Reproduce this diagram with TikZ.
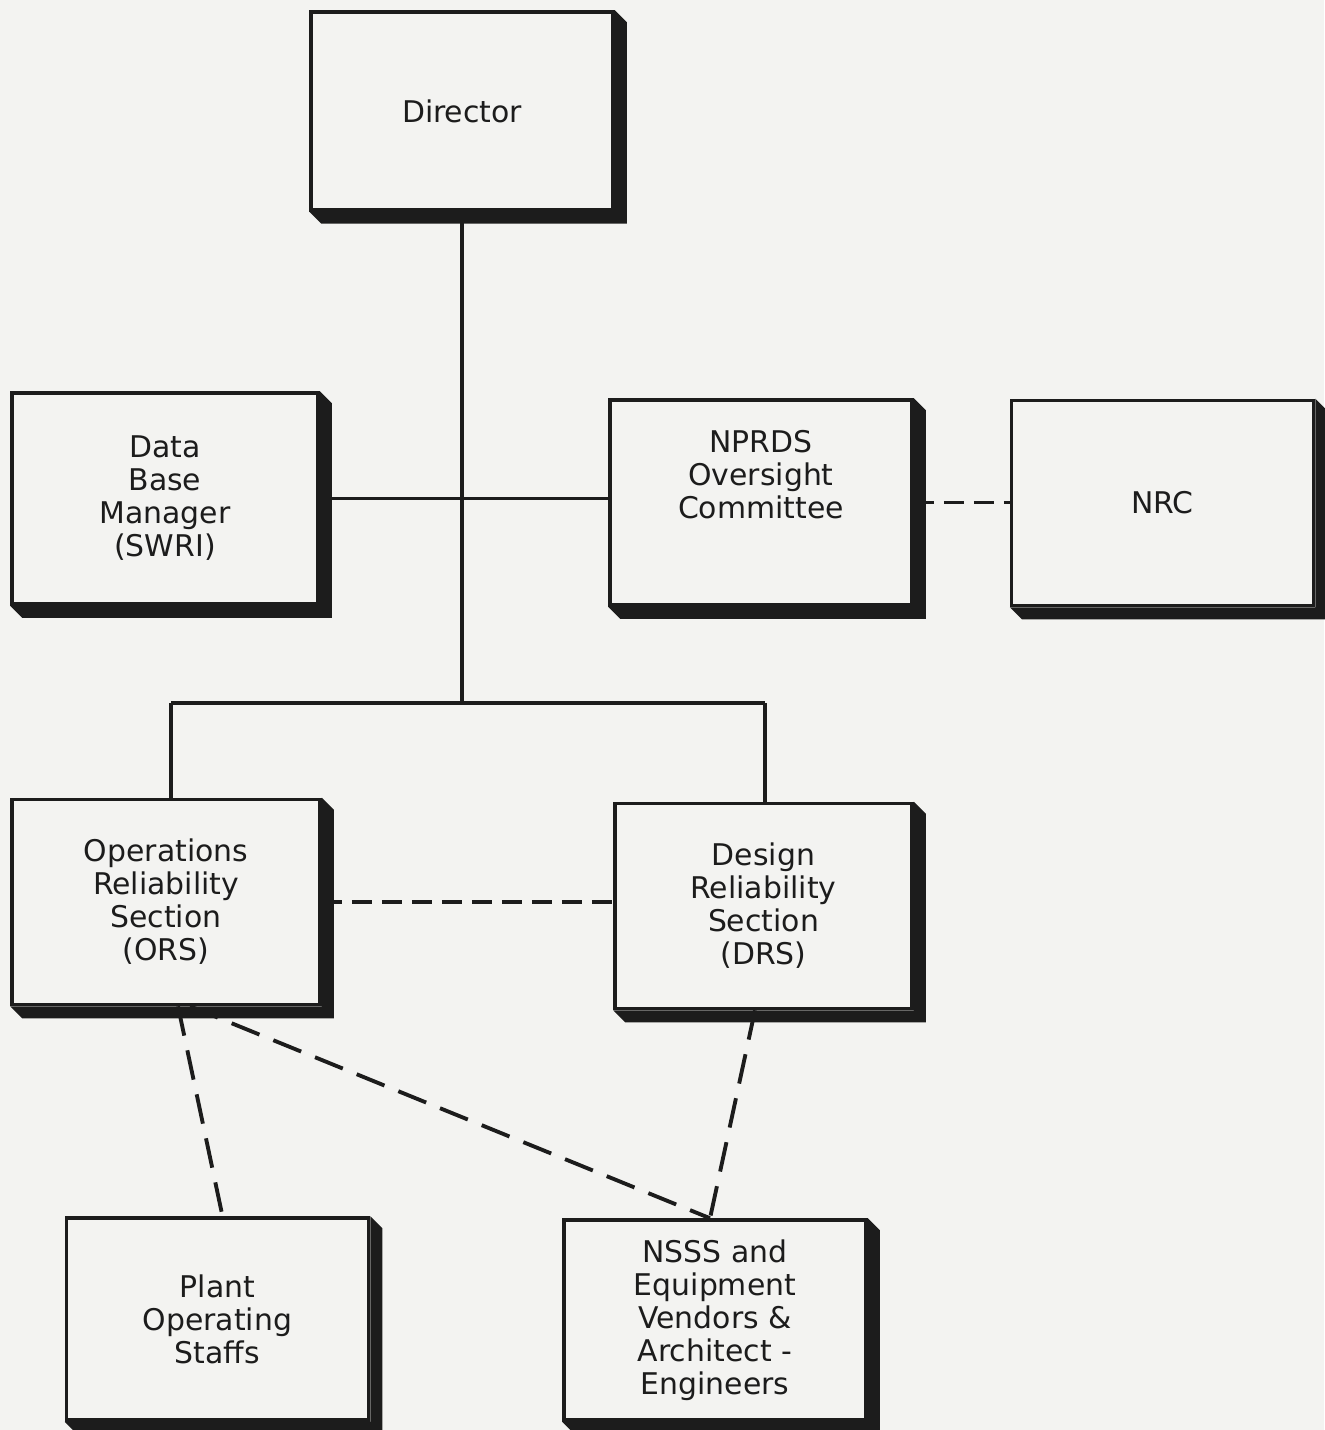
\documentclass[tikz,border=0pt]{standalone}
\usepackage{fontspec}
\setmainfont{DejaVu Sans}
\usetikzlibrary{positioning,calc}
\definecolor{paper}{RGB}{243,243,241}
\definecolor{ink}{RGB}{28,28,28}

\begin{document}
\begin{tikzpicture}[
  lettering/.style={align=center, text=ink, font=\fontsize{8.5}{9.4}\selectfont},
  unit/.style={draw=ink, line width=1pt, fill=paper, minimum width=3.02cm, minimum height=2.05cm, lettering},
  link/.style={draw=ink, line width=1.1pt},
  liaison/.style={link, dash pattern=on 2mm off 1mm},
  contact/.style={link, dash pattern=on 3mm off 1.5mm}]
\fill[paper] (0,0) rectangle (13.24,-14.30);
\useasboundingbox (0,0) rectangle (13.24,-14.30);

% top of the chart
\node[unit, minimum height=1.98cm] (dir) at (4.62,-1.11) {Director};

% staff level
\node[unit, minimum width=3.06cm, minimum height=2.11cm] (dbm) at (1.65,-4.985) {Data\\Base\\Manager\\(SWRI)};
\node[unit, label={[lettering, yshift=2.8mm]center:NPRDS\\Oversight\\Committee}] (npr) at (7.61,-5.025) {};
\node[unit] (nrc) at (11.625,-5.03) {NRC};

% sections
\node[unit, minimum width=3.08cm] (ors) at (1.66,-9.02) {Operations\\Reliability\\Section\\(ORS)};
\node[unit, minimum width=2.97cm] (drs) at (7.635,-9.06) {Design\\Reliability\\Section\\(DRS)};

% outside contacts
\node[unit, minimum height=2.02cm] (pos) at (2.175,-13.19) {Plant\\Operating\\Staffs};
\node[unit, minimum height=2.0cm] (nsss) at (7.15,-13.20) {NSSS and\\Equipment\\Vendors \&\\Architect -\\Engineers};

\coordinate (busL) at (1.71,-7.03);
\coordinate (busR) at (7.65,-7.03);
\coordinate (busM) at (dir.south |- busL);

\draw[link] (dir.south) -- (busM);
\draw[link] (busL) -- (busR);
\draw[link] (busL) -- (busL |- ors.north);
\draw[link] (busR) -- (busR |- drs.north);
\draw[link] (dbm.east) -- (dbm.east -| npr.west);

\draw[liaison] (npr.east) -- (npr.east -| nrc.west);
\draw[liaison] (ors.east) -- (ors.east -| drs.west);

\draw[contact] ([xshift=1.2mm]ors.south) -- ([xshift=0.5mm]pos.north);
\draw[contact] ([xshift=2.4mm]ors.south) -- ([xshift=-0.5mm]nsss.north);
\draw[contact] ([xshift=-0.85mm]drs.south) -- ([xshift=-0.5mm]nsss.north);

% raised edges
\foreach \n in {dir,dbm,npr,nrc,ors,drs,pos,nsss}
  \fill[ink] (\n.north east) -- ++(0.12,-0.12) -- ($(\n.south east)+(0.12,-0.12)$)
    -- ($(\n.south west)+(0.12,-0.12)$) -- (\n.south west) -- (\n.south east) -- cycle;
\end{tikzpicture}
\end{document}
